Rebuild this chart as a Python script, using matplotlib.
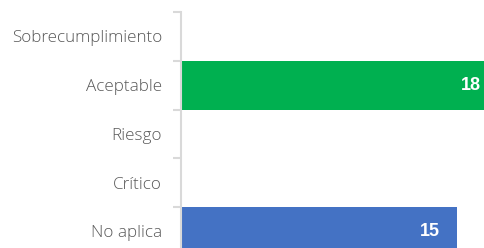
import matplotlib
matplotlib.use("Agg")
import matplotlib.pyplot as plt
import numpy as np

categories = ["Sobrecumplimiento", "Aceptable", "Riesgo", "Crítico", "No aplica"]
values = [0, 18, 0, 0, 15]
colors = ["#00B050", "#00B050", "#FF0000", "#FFC000", "#4472C4"]

W, H = 485, 248
fig = plt.figure(figsize=(W / 100, H / 100), dpi=100)
ax_left = 181 / W
ax_top = 1 - 12 / H
band = 48.75
ax_h = 5 * band / H
scale = 18.38  # px per unit
xmax = 20
ax_w = xmax * scale / W
ax = fig.add_axes([ax_left, ax_top - ax_h, ax_w, ax_h])

y = np.arange(len(categories))
ax.barh(y, values, height=1.0, color=colors)
ax.set_ylim(len(categories) - 0.5, -0.5)
ax.set_xlim(0, xmax)

for s in ["top", "right", "bottom"]:
    ax.spines[s].set_visible(False)
ax.spines["left"].set_color("#d9d9d9")
ax.spines["left"].set_linewidth(1.5)
ax.set_xticks([])
ax.set_yticks(y)
ax.set_yticklabels(categories, fontsize=12.3, color="#595959",
                   family=["Open Sans", "DejaVu Sans"], fontweight="light")
ax.tick_params(axis="y", which="major", length=0, pad=13.5)
ax.set_yticks(np.arange(-0.5, len(categories), 1.0), minor=True)
ax.tick_params(axis="y", which="minor", length=6, width=1.5, color="#d9d9d9")

vis_max = (W - 181) / scale
for yi, v in zip(y, values):
    if v > 0:
        xt = min(v - 0.9, vis_max - 0.25)
        ax.text(xt, yi, str(v), ha="right", va="center", color="white",
                fontsize=13, fontweight="bold", family=["Liberation Sans", "DejaVu Sans"])

fig.savefig("out.png", dpi=100)
